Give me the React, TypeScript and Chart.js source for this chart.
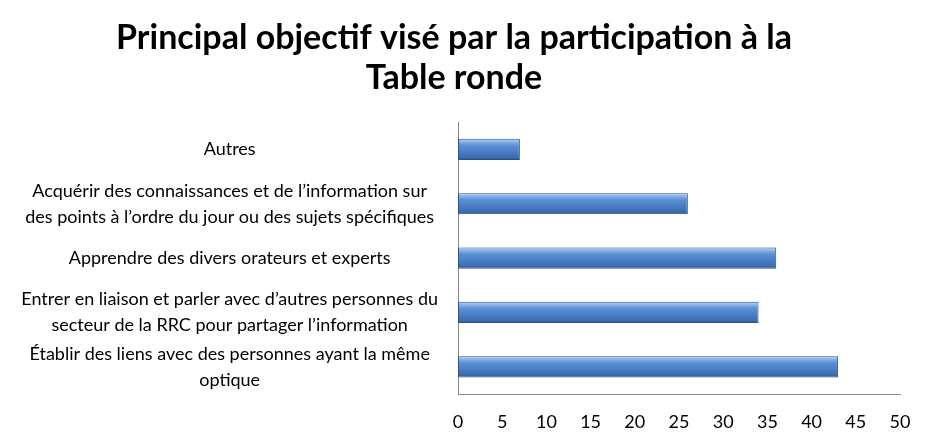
import React, { useEffect, useRef } from "react";
import { Chart, registerables } from "chart.js";

Chart.register(...registerables);

const titleLines = ["Principal objectif visé par la participation à la", "Table ronde"];
const categories: string[][] = [
  ["Autres"],
  ["Acquérir des connaissances et de l’information sur", "des points à l’ordre du jour ou des sujets spécifiques"],
  ["Apprendre des divers orateurs et experts"],
  ["Entrer en liaison et parler avec d’autres personnes du", "secteur de la RRC pour partager l’information"],
  ["Établir des liens avec des personnes ayant la même", "optique"],
];
const values = [7, 26, 36, 34, 43];
const xMin = 0;
const xMax = 50;
const xStep = 5;

const FONT = "Lato, 'Open Sans', sans-serif";
const BAR_PCT = 0.39;

export default function App() {
  const ref = useRef<HTMLCanvasElement | null>(null);
  useEffect(() => {
    if (!ref.current) return;
    const chart = new Chart(ref.current, {
      type: "bar",
      data: {
        labels: categories,
        datasets: [
          {
            data: values,
            borderColor: "#2d5386",
            borderWidth: 1,
            borderSkipped: false,
            categoryPercentage: 1,
            barPercentage: BAR_PCT,
            backgroundColor: (c: any) => {
              const chartRef = c.chart;
              const yScale = chartRef.scales?.y;
              if (!yScale || c.dataIndex === undefined) return "#4f81bd";
              const cy = yScale.getPixelForValue(c.dataIndex);
              const h = (yScale.height / categories.length) * BAR_PCT;
              if (!isFinite(cy) || !isFinite(h) || h <= 0) return "#4f81bd";
              const g = chartRef.ctx.createLinearGradient(0, cy - h / 2, 0, cy + h / 2);
              g.addColorStop(0, "#b9d3f4");
              g.addColorStop(0.15, "#86b0e6");
              g.addColorStop(0.32, "#5a8fd4");
              g.addColorStop(0.6, "#4a7fc6");
              g.addColorStop(0.88, "#3b6cb0");
              g.addColorStop(1, "#2a5490");
              return g;
            },
          },
        ],
      },
      options: {
        indexAxis: "y",
        responsive: false,
        animation: false,
        maintainAspectRatio: false,
        layout: { padding: { left: 0, right: 20, top: 0, bottom: 0 } },
        plugins: {
          legend: { display: false },
          tooltip: { enabled: false },
          title: {
            display: true,
            text: titleLines,
            color: "#000",
            font: { family: FONT, size: 34, weight: "bold", lineHeight: 1.18 },
            padding: { top: 10, bottom: 24 },
          },
        },
        scales: {
          x: {
            min: xMin,
            max: xMax,
            ticks: {
              stepSize: xStep,
              color: "#000",
              font: { family: FONT, size: 18 },
              padding: 17,
              maxRotation: 0,
            },
            grid: { display: false, drawTicks: false },
            border: { display: true, color: "#868686", width: 1 },
            afterFit: (s: any) => {
              s.height = 40;
              s.paddingLeft = 0;
              s.paddingRight = 0;
            },
          },
          y: {
            ticks: {
              color: "#000",
              font: { family: FONT, size: 18, lineHeight: 1.45 },
              crossAlign: "center",
              padding: 20,
              autoSkip: false,
            },
            grid: { display: false, drawTicks: false },
            border: { display: true, color: "#868686", width: 1 },
            afterFit: (s: any) => {
              s.width = 450;
            },
          },
        },
      },
    } as any);
    return () => chart.destroy();
  }, []);
  return (
    <div style={{ width: 912, height: 426 }}>
      <canvas ref={ref} width={912} height={426} style={{ width: 912, height: 426 }} />
    </div>
  );
}
